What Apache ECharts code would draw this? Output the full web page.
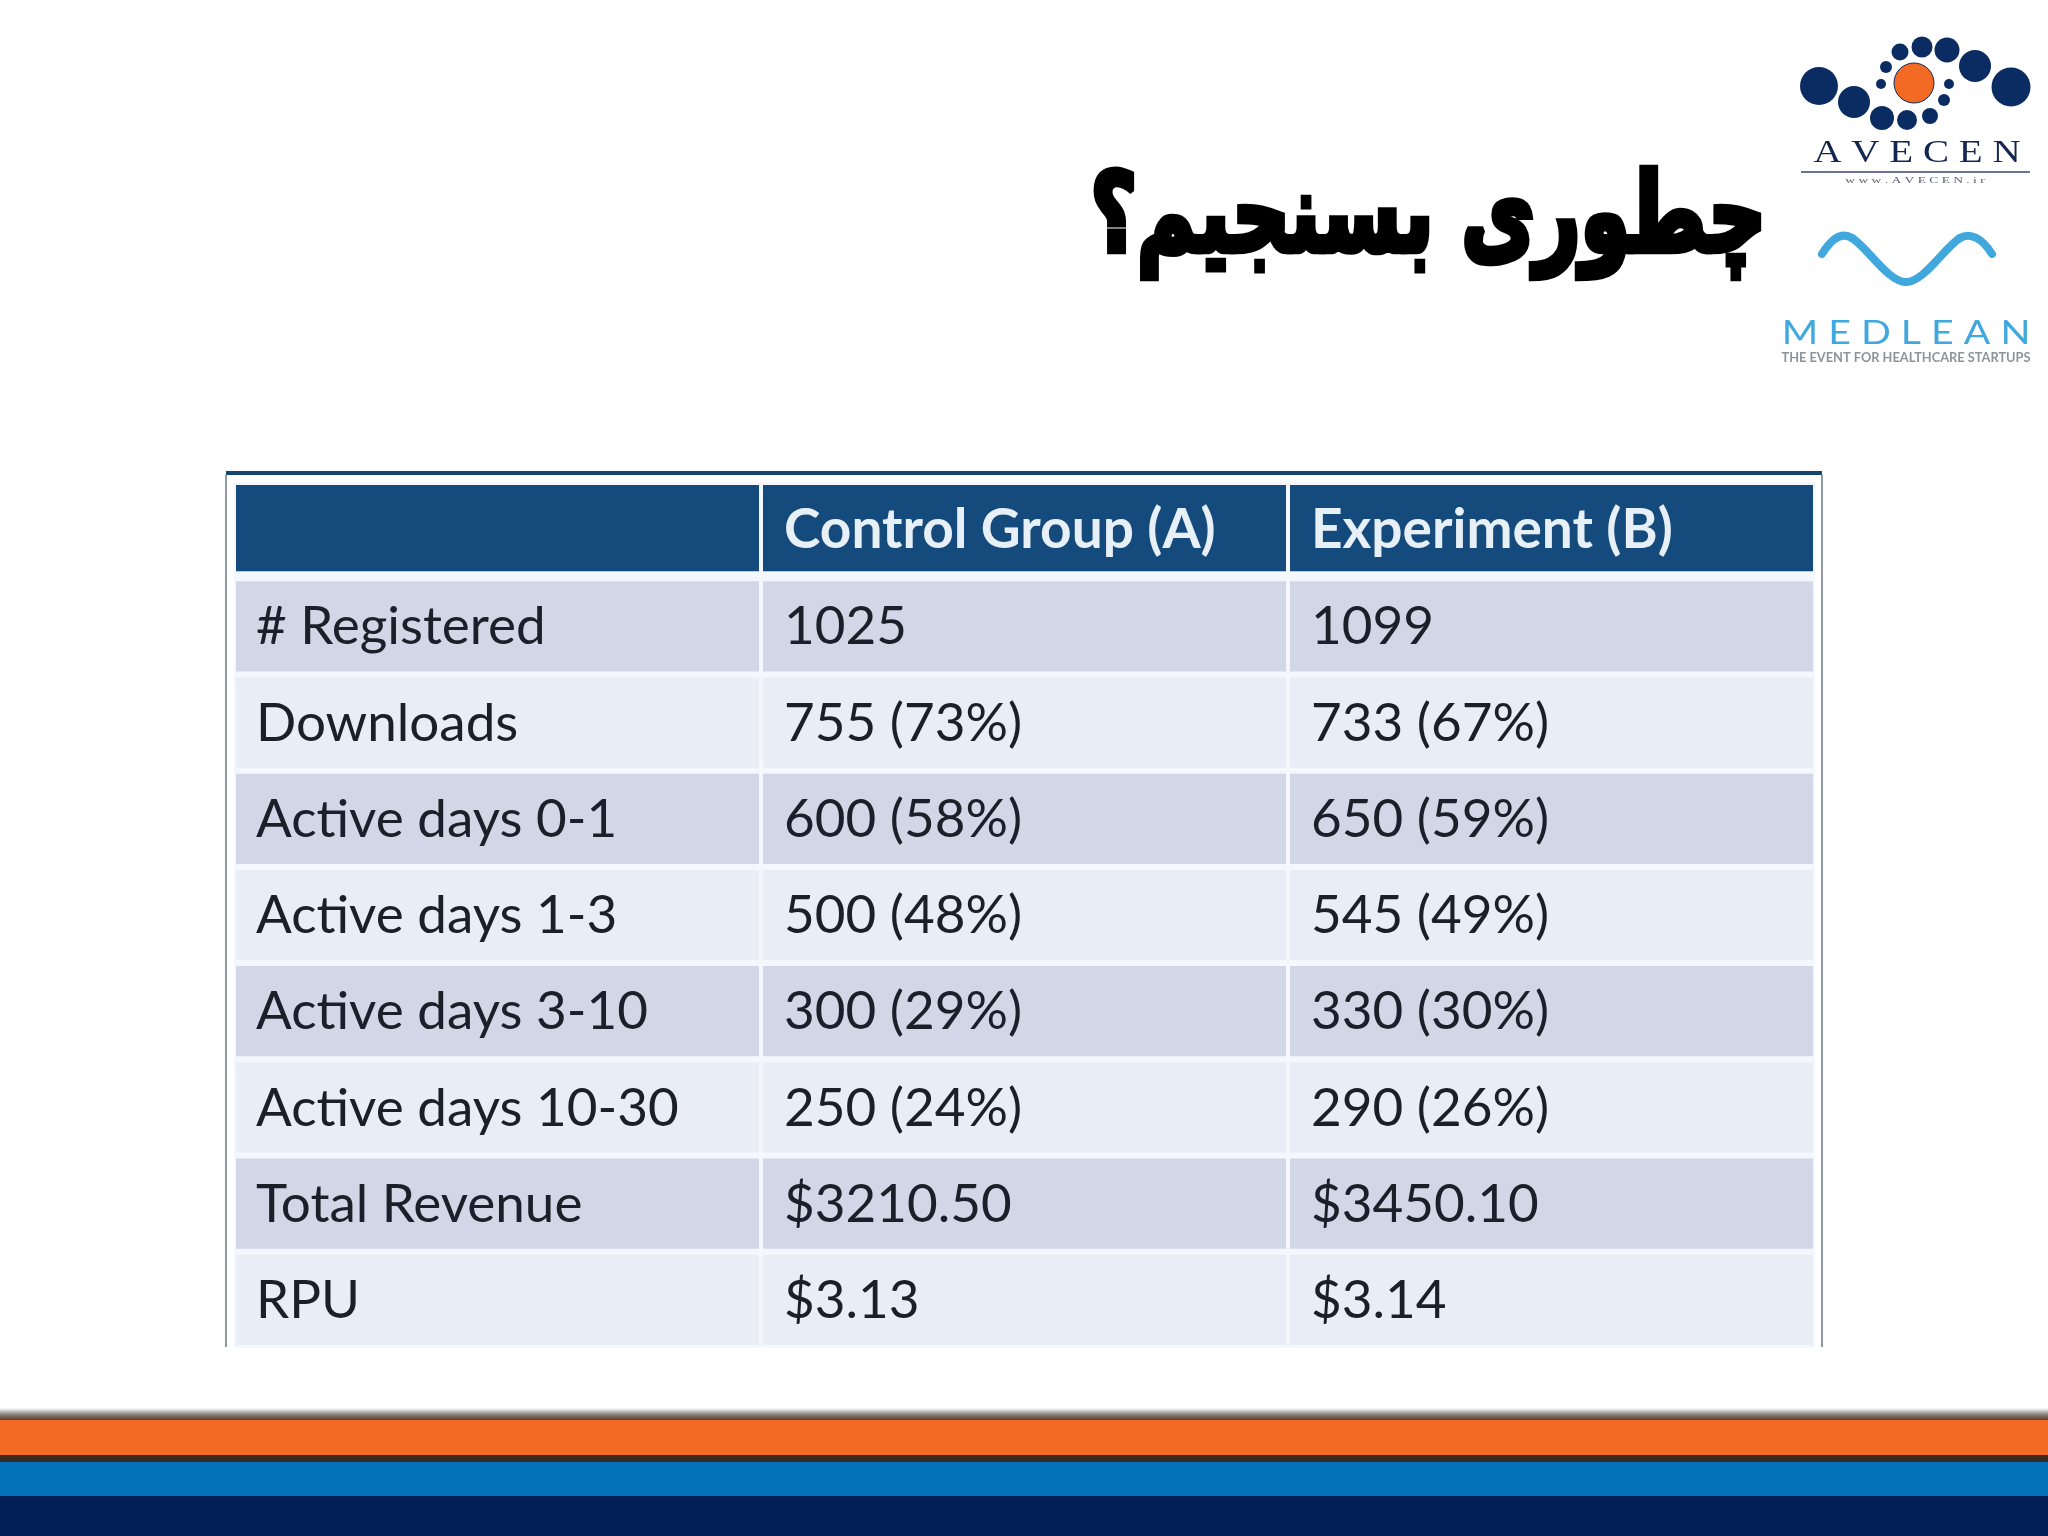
<!DOCTYPE html>
<html>
<head>
<meta charset="utf-8">
<title>چطوری بسنجیم؟</title>
<style>
  html, body { margin: 0; padding: 0; background: #fff; }
  #main { width: 2048px; height: 1536px; }
</style>
<script src="https://cdn.jsdelivr.net/npm/echarts@6/dist/echarts.min.js"></script>
</head>
<body>
<div id="main"></div>
<script>
// table content
var columnNames = ['', 'Control Group (A)', 'Experiment (B)'];
var rowNames = ['# Registered', 'Downloads', 'Active days 0-1', 'Active days 1-3',
  'Active days 3-10', 'Active days 10-30', 'Total Revenue', 'RPU'];
var controlGroup = ['1025', '755 (73%)', '600 (58%)', '500 (48%)', '300 (29%)', '250 (24%)', '$3210.50', '$3.13'];
var experiment = ['1099', '733 (67%)', '650 (59%)', '545 (49%)', '330 (30%)', '290 (26%)', '$3450.10', '$3.14'];

var titleText = 'چطوری بسنجیم؟';

// every table cell as [column, row]; the text is looked up by position
var columnTexts = [rowNames, controlGroup, experiment];
var cells = [];
for (var c = 0; c < columnNames.length; c++) {
  cells.push([c, 0, columnNames[c]]);
  for (var r = 0; r < rowNames.length; r++) {
    cells.push([c, r + 1, columnTexts[c][r]]);
  }
}

function renderCell(params, api) {
  var col = api.value(0);
  var row = api.value(1);
  var center = api.coord([col, row]);
  var size = api.size([1, 1]);
  var text = cells[params.dataIndex][2];
  var fill = row === 0 ? '#154a7c' : (row % 2 === 1 ? '#d1d7e6' : '#e9edf5');
  var left = center[0] - size[0] / 2 + 2;
  var top = center[1] - size[1] / 2 + 3;
  // header band stops a little short of the next row
  var height = size[1] - (row === 0 ? 10 : 6);
  return {
    type: 'group',
    children: [
      { type: 'rect',
        shape: { x: left, y: top, width: size[0] - 4, height: height },
        style: { fill: fill } },
      { type: 'text',
        style: {
          x: left + (col === 0 ? 20 : 21),
          y: center[1] + (row === 0 ? 0 : 1),
          text: text,
          verticalAlign: 'middle',
          fill: row === 0 ? '#e8f0f7' : '#1a2029',
          font: row === 0 ? 'bold 55px Lato' : '400 53px Lato'
        } }
    ]
  };
}

// logo dots: x, y, r
var logoDots = [
  [1819, 86, 19], [1854, 102, 16], [1882, 118, 12], [1907, 120, 10], [1930, 116, 8],
  [1944, 100, 6], [1949, 84, 5], [1881, 84, 5], [1886, 67, 6], [1900, 52, 8.5],
  [1922, 47, 10.5], [1947, 50, 12.5], [1975, 66, 16], [2011, 87, 19.5]
];
var graphics = logoDots.map(function (d) {
  return { type: 'circle', shape: { cx: d[0], cy: d[1], r: d[2] }, style: { fill: '#0b2c63' } };
});

// medlean wave, four bezier pieces
var waveParts = [
  [1822, 254, 1832, 238, 1842, 232, 1852, 238],
  [1852, 238, 1868, 248, 1888, 282, 1906, 282],
  [1906, 282, 1924, 282, 1944, 248, 1960, 238],
  [1960, 238, 1970, 232, 1982, 238, 1992, 254]
];
waveParts.forEach(function (p) {
  graphics.push({ type: 'bezierCurve',
    shape: { x1: p[0], y1: p[1], cpx1: p[2], cpy1: p[3], cpx2: p[4], cpy2: p[5], x2: p[6], y2: p[7] },
    style: { fill: 'none', stroke: '#41a8de', lineWidth: 8, lineCap: 'round' } });
});

graphics = graphics.concat([
  { type: 'text', x: 1766, y: 222, scaleX: 0.815, scaleY: 1.12,
    style: { text: titleText, align: 'right', verticalAlign: 'middle', fill: '#000000',
      font: 'bold 98px "DejaVu Sans"', stroke: '#000000', lineWidth: 6 } },
  { type: 'circle', shape: { cx: 1914, cy: 83, r: 20 }, style: { fill: '#f26a24', stroke: '#0b2c63', lineWidth: 1 } },
  { type: 'text', x: 1917, y: 154, scaleX: 1.26,
    style: { text: 'A V E C E N', align: 'center', verticalAlign: 'middle',
      fill: '#14264f', font: '400 31px "Liberation Serif"' } },
  { type: 'line', shape: { x1: 1801, y1: 172, x2: 2030, y2: 172 }, style: { stroke: '#3b4674', lineWidth: 1.5 } },
  { type: 'text', x: 1915, y: 181, scaleX: 1.5,
    style: { text: 'w w w . A V E C E N . i r', align: 'center', verticalAlign: 'middle',
      fill: '#555c70', font: '400 9px "Liberation Serif"' } },
  { type: 'text', x: 1906, y: 333, scaleX: 1.19,
    style: { text: 'M E D L E A N', align: 'center', verticalAlign: 'middle',
      fill: '#41a8de', font: '400 33px Lato' } },
  { type: 'text', style: { x: 1906, y: 358, text: 'THE EVENT FOR HEALTHCARE STARTUPS', align: 'center', verticalAlign: 'middle',
      fill: '#8c949a', font: '700 12.8px Lato' } },

  // table frame
  { type: 'rect', shape: { x: 226, y: 471, width: 1596, height: 4 }, style: { fill: '#14466f' } },
  { type: 'line', shape: { x1: 226, y1: 475, x2: 226, y2: 1347 }, style: { stroke: '#8f98a3', lineWidth: 2 } },
  { type: 'line', shape: { x1: 1822, y1: 475, x2: 1822, y2: 1347 }, style: { stroke: '#8f98a3', lineWidth: 2 } },

  // footer stripes
  { type: 'rect', shape: { x: 0, y: 1408, width: 2048, height: 12 },
    style: { fill: new echarts.graphic.LinearGradient(0, 0, 0, 1, [
      { offset: 0, color: '#ffffff' }, { offset: 0.5, color: '#8a8a86' }, { offset: 1, color: '#5f3b2a' }]) } },
  { type: 'rect', shape: { x: 0, y: 1420, width: 2048, height: 35 }, style: { fill: '#f26a24' } },
  { type: 'rect', shape: { x: 0, y: 1455, width: 2048, height: 7 }, style: { fill: '#3a2a20' } },
  { type: 'rect', shape: { x: 0, y: 1462, width: 2048, height: 34 }, style: { fill: '#0372ba' } },
  { type: 'rect', shape: { x: 0, y: 1496, width: 2048, height: 40 }, style: { fill: '#031f57' } }
]);

var chart = echarts.init(document.getElementById('main'), null, { renderer: 'canvas' });
chart.setOption({
  animation: false,
  backgroundColor: '#ffffff',
  grid: { left: 234, top: 482, width: 1581, height: 866, show: true, backgroundColor: '#f4f7fb', borderWidth: 0 },
  xAxis: { type: 'category', show: false, data: columnNames.map(function (n, i) { return 'c' + i; }) },
  yAxis: { type: 'category', show: false, inverse: true, data: ['header'].concat(rowNames) },
  graphic: graphics,
  series: [{
    type: 'custom',
    renderItem: renderCell,
    encode: { x: 0, y: 1 },
    data: cells.map(function (d) { return [d[0], d[1]]; })
  }]
});
</script>
</body>
</html>
